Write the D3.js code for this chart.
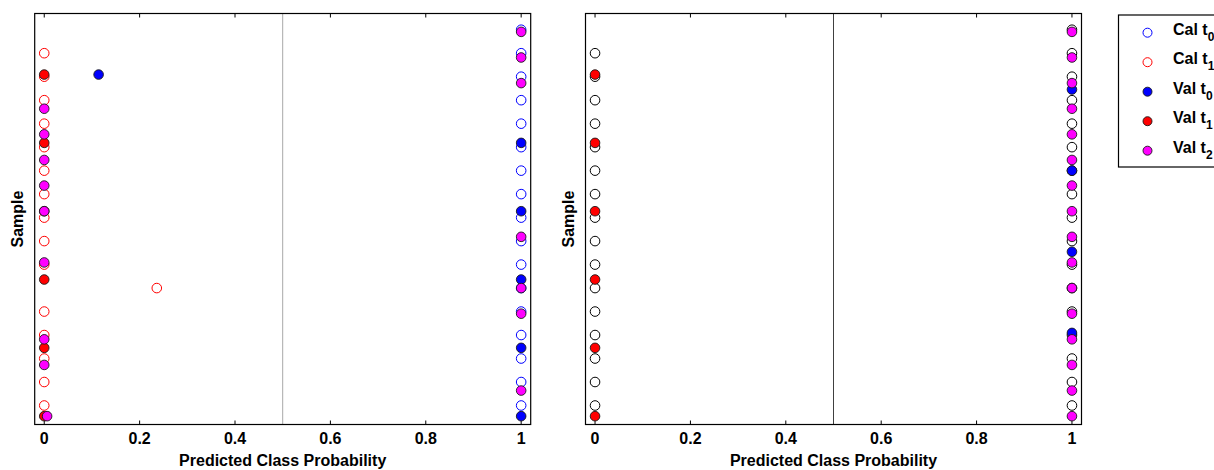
<!doctype html>
<html>
<head>
<meta charset="utf-8"/>
<title>Predicted Class Probability</title>
<script src="https://d3js.org/d3.v7.min.js"></script>
<style>
  body { margin: 0; background: #fff; }
  text { font-family: "Liberation Sans", Arial, sans-serif; font-weight: bold; }
</style>
</head>
<body>
<script>
// x axis ticks
var xTicks = [0, 0.2, 0.4, 0.6, 0.8, 1];
var xTickLabels = ["0", "0.2", "0.4", "0.6", "0.8", "1"];
var threshold = 0.5;

// sample numbers of each group
var sampleCalT0 = [1, 12, 23, 34, 45, 56, 67, 78, 89, 100, 111, 122, 133, 144, 155, 166, 177];
var sampleCalT1 = [12, 23, 34, 45, 56, 67, 78, 89, 100, 111, 122, 133, 144, 155, 166, 177];
var sampleValT0 = [22, 54, 86, 118, 150, 182];
var sampleValT1 = [22, 54, 86, 118, 150, 182];
var sampleValT2 = [2, 14, 26, 38, 50, 62, 74, 86, 98, 110, 122, 134, 146, 158, 170, 182];
var sampleValT0Right = [29, 67, 105, 143];

// left panel: predicted probabilities
var leftCalT0 = [1, 1, 1, 1, 1, 1, 1, 1, 1, 1, 1, 1, 1, 1, 1, 1, 1];
var leftCalT1 = [0, 0, 0, 0, 0, 0, 0, 0, 0, 0, 0.236, 0, 0, 0, 0, 0];
var leftValT0 = [0.114, 1, 1, 1, 1, 1];
var leftValT1 = [0, 0, 0, 0, 0, 0];
var leftValT2 = [1, 1, 1, 0, 0, 0, 0, 0, 1, 0, 1, 1, 0, 0, 1, 0.006];

// right panel: predicted probabilities
var rightCalT0 = [1, 1, 1, 1, 1, 1, 1, 1, 1, 1, 1, 1, 1, 1, 1, 1, 1];
var rightCalT1 = [0, 0, 0, 0, 0, 0, 0, 0, 0, 0, 0, 0, 0, 0, 0, 0];
var rightValT0 = [1, 1, 1, 1];
var rightValT1 = [0, 0, 0, 0, 0, 0];
var rightValT2 = [1, 1, 1, 1, 1, 1, 1, 1, 1, 1, 1, 1, 1, 1, 1, 1];

var legendNames = ["Cal t", "Cal t", "Val t", "Val t", "Val t"];
var legendSubs = ["0", "1", "0", "1", "2"];

var svg = d3.select("body").append("svg")
    .attr("width", 1214)
    .attr("height", 470);

var plotTop = 13.5, plotBottom = 424.5;
var y = d3.scaleLinear().domain([-6.6, 185.9]).range([plotTop, plotBottom]);

function zip(samples, values) {
    return samples.map(function (s, i) { return { s: s, p: values[i] }; });
}

function drawPanel(x0, x1, lineColor, groups) {
    var x = d3.scaleLinear().domain([-0.02, 1.02]).range([x0, x1]);
    var g = svg.append("g");

    // threshold line
    g.append("line")
        .attr("x1", x(threshold)).attr("x2", x(threshold))
        .attr("y1", plotTop).attr("y2", plotBottom)
        .attr("stroke", lineColor).attr("stroke-width", 1);

    // inward ticks bottom and top
    g.selectAll(".tb").data(xTicks).enter().append("line")
        .attr("x1", function (d) { return x(d); }).attr("x2", function (d) { return x(d); })
        .attr("y1", plotBottom).attr("y2", plotBottom - 4)
        .attr("stroke", "#000");
    g.selectAll(".tt").data(xTicks).enter().append("line")
        .attr("x1", function (d) { return x(d); }).attr("x2", function (d) { return x(d); })
        .attr("y1", plotTop).attr("y2", plotTop + 4)
        .attr("stroke", "#000");

    g.selectAll(".tl").data(xTicks).enter().append("text")
        .attr("x", function (d) { return x(d); })
        .attr("y", 444)
        .attr("text-anchor", "middle")
        .attr("font-size", 16)
        .text(function (d, i) { return xTickLabels[i]; });

    g.append("text")
        .attr("x", (x0 + x1) / 2)
        .attr("y", 466)
        .attr("text-anchor", "middle")
        .attr("font-size", 16)
        .text("Predicted Class Probability");

    g.append("text")
        .attr("transform", "translate(" + (x0 - 12) + "," + ((plotTop + plotBottom) / 2) + ") rotate(-90)")
        .attr("text-anchor", "middle")
        .attr("font-size", 16)
        .text("Sample");

    groups.forEach(function (grp) {
        g.selectAll(null).data(grp.data).enter().append("circle")
            .attr("cx", function (d) { return x(d.p); })
            .attr("cy", function (d) { return y(d.s); })
            .attr("r", 4.8)
            .attr("fill", grp.fill)
            .attr("stroke", grp.stroke)
            .attr("stroke-width", grp.fill === "none" ? 1 : 0.9);
    });

    // box
    g.append("rect")
        .attr("x", x0).attr("y", plotTop)
        .attr("width", x1 - x0).attr("height", plotBottom - plotTop)
        .attr("fill", "none").attr("stroke", "#000").attr("stroke-width", 1.2);
}

drawPanel(34.7, 530.7, "#a8a8a8", [
    { data: zip(sampleCalT0, leftCalT0), fill: "none", stroke: "#0000ff" },
    { data: zip(sampleCalT1, leftCalT1), fill: "none", stroke: "#ff0000" },
    { data: zip(sampleValT0, leftValT0), fill: "#0000ff", stroke: "#1a1a1a" },
    { data: zip(sampleValT1, leftValT1), fill: "#ff0000", stroke: "#1a1a1a" },
    { data: zip(sampleValT2, leftValT2), fill: "#ff00ff", stroke: "#1a1a1a" }
]);

drawPanel(585.5, 1081.5, "#404040", [
    { data: zip(sampleCalT0, rightCalT0), fill: "none", stroke: "#000" },
    { data: zip(sampleCalT1, rightCalT1), fill: "none", stroke: "#000" },
    { data: zip(sampleValT0Right, rightValT0), fill: "#0000ff", stroke: "#1a1a1a" },
    { data: zip(sampleValT1, rightValT1), fill: "#ff0000", stroke: "#1a1a1a" },
    { data: zip(sampleValT2, rightValT2), fill: "#ff00ff", stroke: "#1a1a1a" }
]);

// legend
var legendStyles = [
    { fill: "none", stroke: "#0000ff" },
    { fill: "none", stroke: "#ff0000" },
    { fill: "#0000ff", stroke: "#1a1a1a" },
    { fill: "#ff0000", stroke: "#1a1a1a" },
    { fill: "#ff00ff", stroke: "#1a1a1a" }
];
var lg = svg.append("g");
lg.append("rect")
    .attr("x", 1118.5).attr("y", 15)
    .attr("width", 140).attr("height", 152)
    .attr("fill", "#fff").attr("stroke", "#000").attr("stroke-width", 1.2);
var rowY = d3.scaleLinear().domain([0, 4]).range([32.7, 150.7]);
legendNames.forEach(function (name, i) {
    lg.append("circle")
        .attr("cx", 1147.5).attr("cy", rowY(i)).attr("r", 4.5)
        .attr("fill", legendStyles[i].fill)
        .attr("stroke", legendStyles[i].stroke)
        .attr("stroke-width", legendStyles[i].fill === "none" ? 1 : 0.9);
    var t = lg.append("text")
        .attr("x", 1173).attr("y", rowY(i) + 2)
        .attr("font-size", 16);
    t.append("tspan").text(name);
    t.append("tspan").attr("dy", 6).attr("font-size", 12).text(legendSubs[i]);
});
</script>
</body>
</html>
